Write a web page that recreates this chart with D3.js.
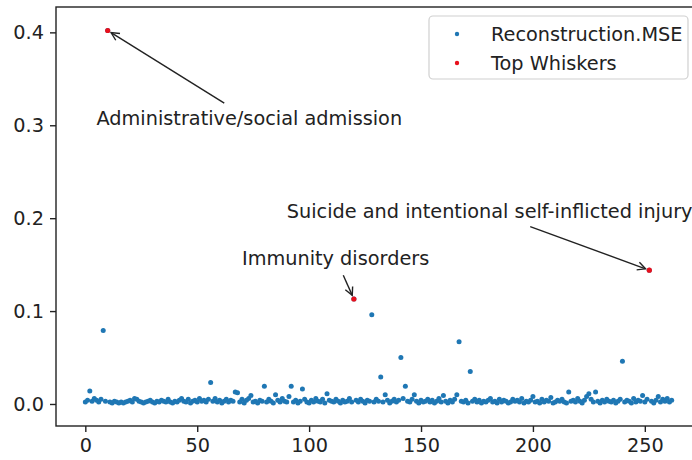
<!DOCTYPE html>
<html><head><meta charset="utf-8">
<script src="https://cdn.jsdelivr.net/npm/d3@7"></script>
<style>
html,body{margin:0;padding:0;background:#fff;}
svg{display:block;font-family:"DejaVu Sans",sans-serif;}
</style></head>
<body><svg id="c" width="692" height="460"></svg>
<script>
// Reconstruction MSE per category index (0..262)
const mse = [
0.002,0.004,0.014,0.003,0.006,0.004,0.002,0.005,0.079,0.003,0.402,0.002,0.001,0.003,0.002,0.001,0.002,0.001,0.002,0.003,
0.004,0.002,0.006,0.005,0.003,0.002,0.001,0.002,0.003,0.004,0.002,0.001,0.003,0.002,0.004,0.003,0.002,0.005,0.002,0.001,
0.003,0.002,0.004,0.006,0.003,0.002,0.005,0.001,0.003,0.004,0.002,0.006,0.003,0.004,0.002,0.005,0.023,0.003,0.006,0.002,
0.004,0.001,0.003,0.005,0.002,0.004,0.003,0.013,0.012,0.002,0.005,0.001,0.004,0.006,0.009,0.002,0.003,0.001,0.004,0.003,
0.019,0.002,0.005,0.003,0.001,0.010,0.004,0.002,0.006,0.003,0.002,0.008,0.019,0.002,0.004,0.001,0.003,0.016,0.005,0.002,
0.001,0.004,0.002,0.006,0.003,0.002,0.005,0.001,0.011,0.004,0.003,0.002,0.005,0.003,0.001,0.004,0.002,0.003,0.006,0.002,
0.113,0.004,0.002,0.005,0.003,0.001,0.004,0.003,0.096,0.002,0.005,0.003,0.029,0.002,0.010,0.004,0.001,0.003,0.005,0.002,
0.004,0.050,0.006,0.019,0.003,0.002,0.005,0.010,0.003,0.001,0.004,0.002,0.003,0.005,0.002,0.004,0.001,0.003,0.006,0.002,
0.009,0.003,0.001,0.004,0.002,0.005,0.010,0.067,0.003,0.002,0.004,0.001,0.035,0.003,0.005,0.002,0.004,0.001,0.003,0.002,
0.004,0.006,0.002,0.003,0.001,0.005,0.002,0.004,0.003,0.001,0.002,0.005,0.003,0.004,0.002,0.006,0.001,0.003,0.002,0.004,
0.008,0.002,0.003,0.001,0.005,0.002,0.004,0.003,0.007,0.001,0.002,0.004,0.003,0.005,0.002,0.001,0.013,0.003,0.004,0.002,
0.006,0.003,0.001,0.004,0.008,0.011,0.005,0.002,0.013,0.003,0.001,0.004,0.002,0.005,0.003,0.002,0.004,0.001,0.003,0.005,
0.046,0.002,0.004,0.003,0.001,0.006,0.002,0.004,0.003,0.009,0.002,0.005,0.144,0.003,0.001,0.004,0.008,0.002,0.005,0.003,
0.006,0.002,0.004
];
// Top whisker indices and their labels
const whiskerIdx = [10, 120, 252];
const whiskerLabels = ["Administrative/social admission", "Immunity disorders", "Suicide and intentional self-inflicted injury"];
const labelPos = [[5, 0.30], [70, 0.15], [90, 0.20]];
const xTicks = [0, 50, 100, 150, 200, 250];
const yTicks = [0.0, 0.1, 0.2, 0.3, 0.4];
const seriesNames = ["Reconstruction.MSE", "Top Whiskers"];

const FS = 19.3;
const svg = d3.select("#c");
const x = d3.scaleLinear().domain([-13.1, 275.1]).range([56, 701]);
const y = d3.scaleLinear().domain([-0.0237, 0.4273]).range([426, 7]);

// axes
const gx = svg.append("g").attr("transform", "translate(0,426)")
  .call(d3.axisBottom(x).tickValues(xTicks).tickSize(6).tickPadding(6).tickSizeOuter(0));
const gy = svg.append("g").attr("transform", "translate(56,0)")
  .call(d3.axisLeft(y).tickValues(yTicks).tickFormat(d3.format(".1f")).tickSize(6).tickPadding(6).tickSizeOuter(0));
[gx, gy].forEach(g => {
  g.selectAll("path.domain").remove();
  g.selectAll(".tick line").attr("stroke", "#222").attr("stroke-width", 1.4);
  g.selectAll(".tick text").attr("fill", "#222").style("font-size", FS + "px").style("font-family", "DejaVu Sans");
});
// spines
svg.append("rect").attr("x", 56).attr("y", 7).attr("width", 701 - 56).attr("height", 426 - 7)
  .attr("fill", "none").attr("stroke", "#222").attr("stroke-width", 1.4);

// points
svg.append("g").selectAll("circle").data(mse).join("circle")
  .attr("cx", (d, i) => x(i)).attr("cy", d => y(d)).attr("r", 2.5).attr("fill", "#1f77b4");
svg.append("g").selectAll("circle").data(whiskerIdx).join("circle")
  .attr("cx", i => x(i)).attr("cy", i => y(mse[i])).attr("r", 2.6).attr("fill", "#e8101c");

// annotations
const ann = svg.append("g");
whiskerIdx.forEach((idx, k) => {
  const t = ann.append("text").attr("x", x(labelPos[k][0])).attr("y", y(labelPos[k][1]))
    .attr("fill", "#222").style("font-size", FS + "px").text(whiskerLabels[k]);
  const b = t.node().getBBox();
  const pad = 2;
  const cx = b.x + b.width / 2, cy = b.y + b.height / 2;
  const tx = x(idx), ty = y(mse[idx]);
  let dx = tx - cx, dy = ty - cy;
  const hw = b.width / 2 + pad, hh = b.height / 2 + pad;
  const s = Math.min(Math.abs(dx) > 0 ? hw / Math.abs(dx) : Infinity, Math.abs(dy) > 0 ? hh / Math.abs(dy) : Infinity);
  const len = Math.hypot(dx, dy);
  const ux = dx / len, uy = dy / len;
  const sx = cx + dx * s + ux * 4, sy = cy + dy * s + uy * 4;
  const ex = tx - ux * 4, ey = ty - uy * 4;
  ann.append("line").attr("x1", sx).attr("y1", sy).attr("x2", ex).attr("y2", ey)
    .attr("stroke", "#222").attr("stroke-width", 1.4);
  const hl = 8, hwd = 4;
  const px = -uy, py = ux;
  ann.append("path").attr("d",
    `M${ex - ux * hl + px * hwd},${ey - uy * hl + py * hwd}L${ex},${ey}L${ex - ux * hl - px * hwd},${ey - uy * hl - py * hwd}`)
    .attr("fill", "none").attr("stroke", "#222").attr("stroke-width", 1.4);
});

// legend
const lg = svg.append("g");
lg.append("rect").attr("x", 429).attr("y", 16).attr("width", 259).attr("height", 63).attr("rx", 4)
  .attr("fill", "#fff").attr("fill-opacity", 0.8).attr("stroke", "#d0d0d0").attr("stroke-width", 1.2);
const lgColors = ["#1f77b4", "#e8101c"];
seriesNames.forEach((n, i) => {
  const yy = 34 + i * 29;
  lg.append("circle").attr("cx", 457).attr("cy", yy).attr("r", 2.2).attr("fill", lgColors[i]);
  lg.append("text").attr("x", 491).attr("y", yy).attr("dy", "0.35em").attr("fill", "#222")
    .style("font-size", FS + "px").text(n);
});
</script>
</body></html>
